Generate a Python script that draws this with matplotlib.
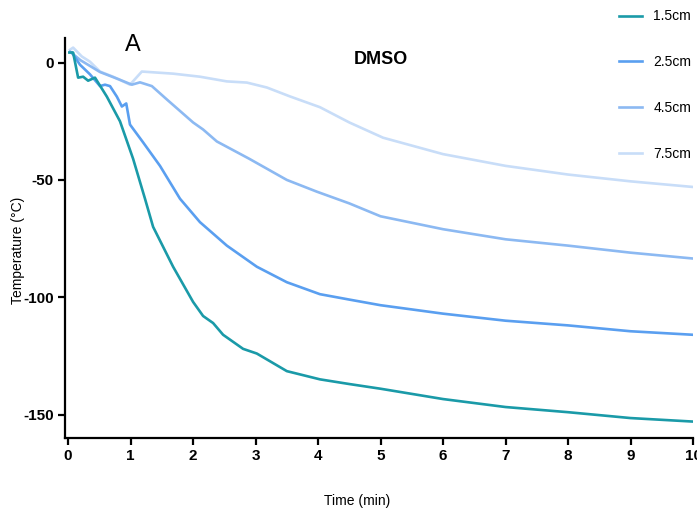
import matplotlib
matplotlib.use("Agg")
import matplotlib.pyplot as plt

plt.rcParams['font.family'] = ['Liberation Sans Narrow', 'Liberation Sans', 'DejaVu Sans']
plt.rcParams['axes.unicode_minus'] = False

labels = ["1.5cm", "2.5cm", "4.5cm", "7.5cm"]
colors = ["#1a9aa8", "#5a9ff0", "#8cb9f2", "#c8ddf8"]

t_15 = [0.02, 0.08, 0.16, 0.24, 0.32, 0.43, 0.51, 0.62, 0.83, 1.04, 1.23, 1.36, 1.68, 2.0, 2.16, 2.32,
        2.48, 2.8, 3.02, 3.5, 4.03, 4.5, 5.0, 6.0, 7.0, 8.0, 9.0, 10.0]
T_15 = [4.3, 4.3, -6.4, -6.0, -7.7, -6.4, -9.8, -14.5, -25, -41, -58, -70, -87, -102, -108, -111,
        -116, -122, -124, -131.5, -135, -137, -139, -143.4, -146.8, -149, -151.5, -153]

t_25 = [0.06, 0.19, 0.35, 0.51, 0.59, 0.67, 0.78, 0.86, 0.93, 0.99, 1.2, 1.47, 1.79, 2.11, 2.54,
        3.02, 3.5, 4.03, 4.5, 5.0, 6.0, 7.0, 8.0, 9.0, 10.0]
T_25 = [4.3, -0.9, -5, -10, -9.4, -10, -14.5, -18.7, -17.4, -26.4, -34, -44, -58, -68, -78,
        -87, -93.6, -98.7, -101, -103.4, -107, -110, -112, -114.5, -116]

t_45 = [0.03, 0.2, 0.51, 0.8, 1.02, 1.15, 1.34, 1.58, 2.0, 2.16, 2.38, 2.9, 3.5, 3.98, 4.5, 5.0,
        6.0, 7.0, 8.0, 9.0, 10.0]
T_45 = [4.7, 1.0, -4.0, -7.0, -9.4, -8.4, -10, -15.7, -25.5, -28.5, -33.6, -41, -50, -55, -60, -65.5,
        -71, -75.3, -78, -81, -83.5]

t_75 = [0.03, 0.08, 0.22, 0.35, 0.51, 0.72, 0.99, 1.18, 1.68, 2.11, 2.54, 2.86, 3.18, 3.55, 4.03,
        4.5, 5.04, 6.0, 7.0, 8.0, 9.0, 10.0]
T_75 = [5.5, 6.4, 2.6, 0.4, -3.8, -6.0, -9.4, -3.8, -4.7, -6.0, -8.0, -8.5, -10.6, -14.4, -19,
        -25.5, -32, -39, -44, -47.7, -50.6, -53]

series = [(t_15, T_15), (t_25, T_25), (t_45, T_45), (t_75, T_75)]

fig = plt.figure(figsize=(6.97, 5.16), dpi=100)
ax = fig.add_axes([65 / 697, 1 - 438 / 516, 628 / 697, 400 / 516])

# draw lightest first so the dark lines sit on top
for (t, T), c, lab in reversed(list(zip(series, colors, labels))):
    ax.plot(t, T, color=c, lw=1.9, label=lab, solid_joinstyle="round")

ax.set_xlim(-0.05, 10)
ax.set_ylim(-160, 10.5)
ax.set_xticks(range(0, 11))
ax.set_yticks([0, -50, -100, -150])
for s in ["top", "right"]:
    ax.spines[s].set_visible(False)
for s in ["left", "bottom"]:
    ax.spines[s].set_linewidth(1.6)
ax.tick_params(width=1.6, length=5, labelsize=11, pad=3)
for lbl in ax.get_xticklabels() + ax.get_yticklabels():
    lbl.set_fontweight("bold")

ax.set_xlabel("Time (min)", fontsize=10)
ax.xaxis.set_label_coords(0.465, -0.14)
ax.set_ylabel("Temperature (\u00b0C)", fontsize=10)
ax.yaxis.set_label_coords(-0.064, 0.47)

ax.text(1.04, 7.7, "A", fontsize=17, ha="center", va="center")
ax.text(5.0, 1.3, "DMSO", fontsize=13, fontweight="bold", ha="center", va="center")

handles, labs = ax.get_legend_handles_labels()
fig.legend(handles[::-1], labs[::-1], loc="upper left", bbox_to_anchor=(606 / 697, 1.006),
           frameon=False, fontsize=10, handlelength=1.7, handletextpad=0.8, labelspacing=2.3)

fig.savefig("out.png", dpi=100)
